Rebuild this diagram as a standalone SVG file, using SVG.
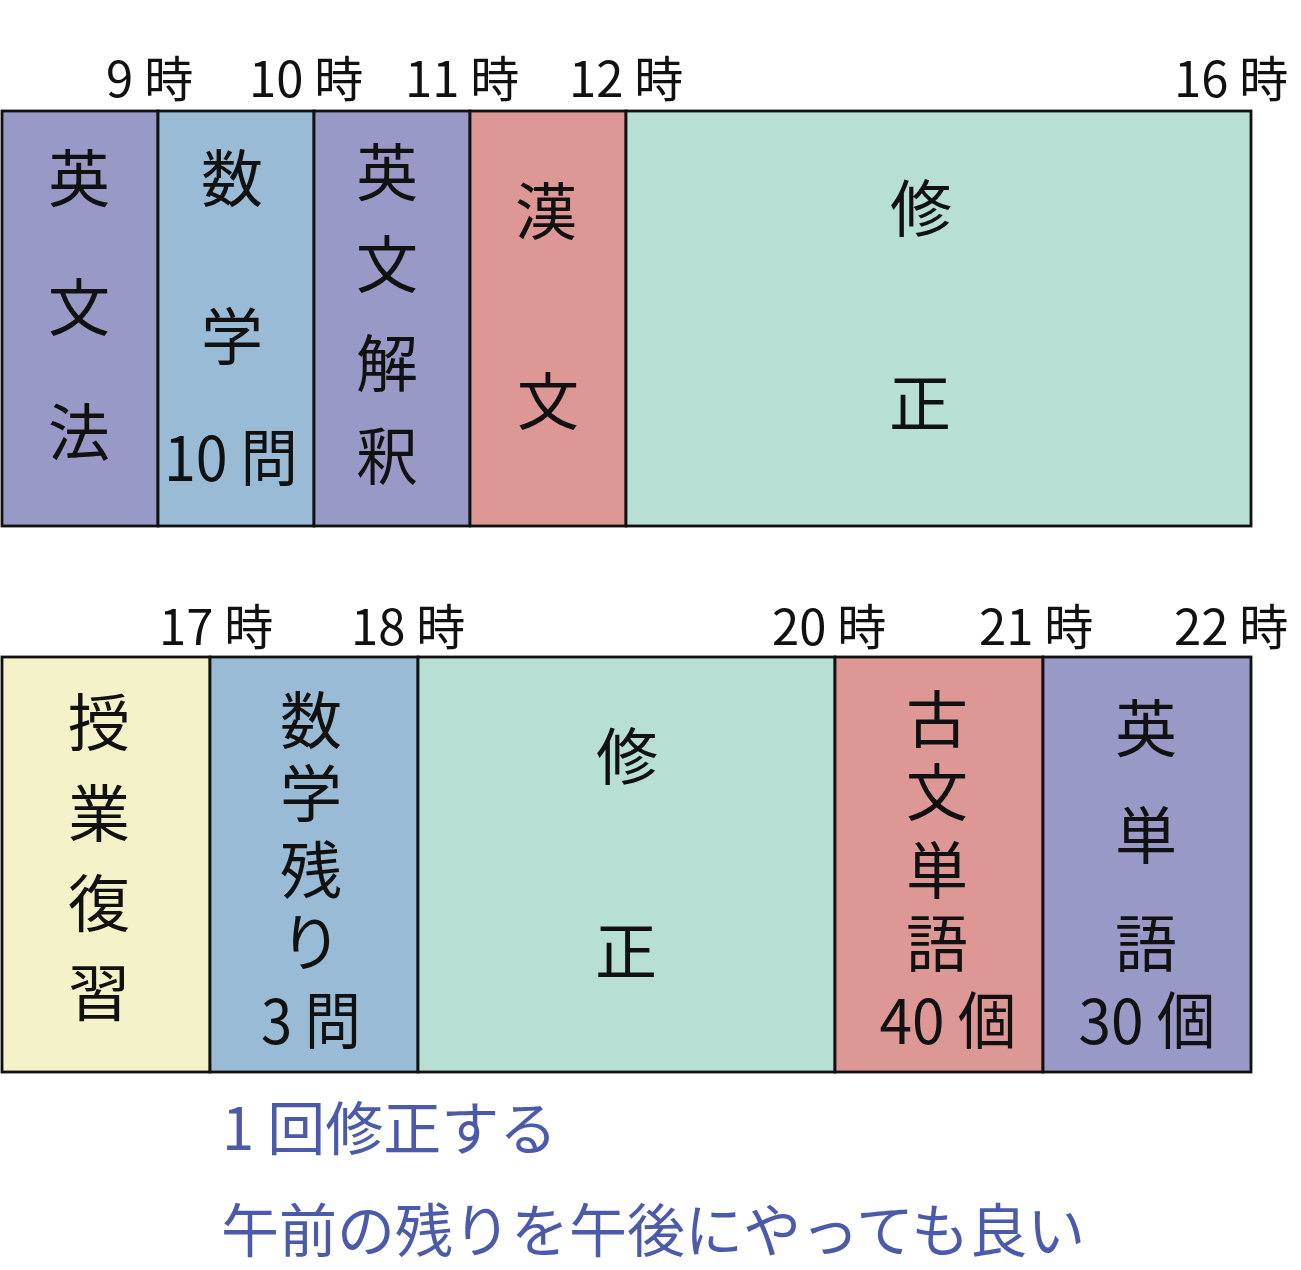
<svg xmlns="http://www.w3.org/2000/svg" width="1301" height="1270" viewBox="0 0 1301 1270">
<style>
.cell{stroke:#111;stroke-width:2.8}
.p{fill:#9999C8}.b{fill:#99BBD5}.r{fill:#DD9795}.g{fill:#B7DFD4}.y{fill:#F3F2C9}
text{font-family:"Noto Sans CJK JP","Noto Sans",sans-serif;fill:#111}
.t{font-size:49px}
.c{font-size:62px;text-anchor:middle}
.n{font-size:58px;fill:#4B5BAA}
</style>
<rect width="1301" height="1270" fill="#fff"/>
<g id="time-labels">
<text class="t" x="106" y="97">9 時</text>
<text class="t" x="249" y="97">10 時</text>
<text class="t" x="405" y="97">11 時</text>
<text class="t" x="569" y="97">12 時</text>
<text class="t" x="1174" y="97">16 時</text>
<text class="t" x="159" y="645">17 時</text>
<text class="t" x="351" y="645">18 時</text>
<text class="t" x="772" y="645">20 時</text>
<text class="t" x="979" y="645">21 時</text>
<text class="t" x="1174" y="645">22 時</text>
</g>
<g id="n1"><rect class="cell p" x="2" y="111" width="156" height="415"/>
<text class="c" x="79" y="202">英</text><text class="c" x="79" y="331">文</text><text class="c" x="79" y="456">法</text></g>
<g id="n2"><rect class="cell b" x="158" y="111" width="156" height="415"/>
<text class="c" x="232" y="202">数</text><text class="c" x="232" y="360">学</text><text class="c" x="231" y="481" textLength="134" lengthAdjust="spacingAndGlyphs">10 問</text></g>
<g id="n3"><rect class="cell p" x="314" y="111" width="156" height="415"/>
<text class="c" x="387" y="196">英</text><text class="c" x="387" y="288">文</text><text class="c" x="387" y="387">解</text><text class="c" x="387" y="480">釈</text></g>
<g id="n4"><rect class="cell r" x="470" y="111" width="156" height="415"/>
<text class="c" x="546" y="235">漢</text><text class="c" x="548" y="425">文</text></g>
<g id="n5"><rect class="cell g" x="626" y="111" width="625" height="415"/>
<text class="c" x="921" y="232">修</text><text class="c" x="920" y="427">正</text></g>
<g id="n6"><rect class="cell y" x="2" y="657" width="208" height="415"/>
<text class="c" x="99" y="746">授</text><text class="c" x="99" y="837">業</text><text class="c" x="99" y="927">復</text><text class="c" x="99" y="1016">習</text></g>
<g id="n7"><rect class="cell b" x="210" y="657" width="208" height="415"/>
<text class="c" x="311" y="744">数</text><text class="c" x="311" y="817">学</text><text class="c" x="311" y="894">残</text><text class="c" x="311" y="966">り</text><text class="c" x="311" y="1044" textLength="100" lengthAdjust="spacingAndGlyphs">3 問</text></g>
<g id="n8"><rect class="cell g" x="418" y="657" width="417" height="415"/>
<text class="c" x="627" y="780">修</text><text class="c" x="626" y="975">正</text></g>
<g id="n9"><rect class="cell r" x="835" y="657" width="208" height="415"/>
<text class="c" x="937" y="743">古</text><text class="c" x="937" y="816">文</text><text class="c" x="937" y="894">単</text><text class="c" x="937" y="967">語</text><text class="c" x="948" y="1044" textLength="137" lengthAdjust="spacingAndGlyphs">40 個</text></g>
<g id="n10"><rect class="cell p" x="1043" y="657" width="208" height="415"/>
<text class="c" x="1146" y="752">英</text><text class="c" x="1146" y="859">単</text><text class="c" x="1146" y="967">語</text><text class="c" x="1147" y="1044" textLength="137" lengthAdjust="spacingAndGlyphs">30 個</text></g>
<g id="notes">
<text class="n" x="222" y="1150">1 回修正する</text>
<text class="n" x="221" y="1252">午前の残りを午後にやっても良い</text>
</g>
<g id="connectors"></g>
</svg>
